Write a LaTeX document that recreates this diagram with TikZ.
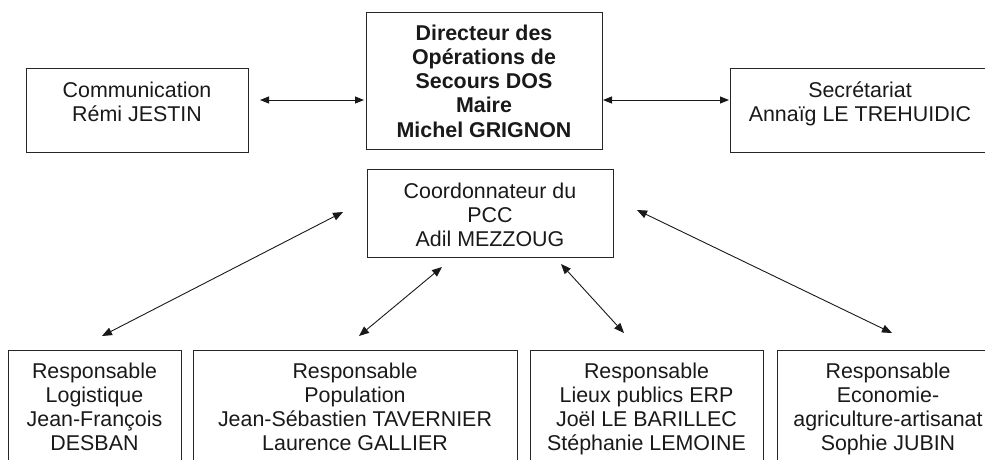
\documentclass[tikz,border=0pt]{standalone}
\usepackage{fontspec}
\setmainfont{Liberation Sans}
\usetikzlibrary{arrows.meta}
\newcommand{\topstrut}{\rule{0pt}{18pt}}
\begin{document}
\begin{tikzpicture}[x=1pt,y=-1pt,
  box/.style={draw=black!85, line width=0.9pt, rectangle, inner sep=0pt, outer sep=0pt},
  txt/.style={align=center, anchor=north, inner sep=0pt, outer sep=0pt,
              font=\fontsize{21.4}{24.3}\selectfont, text=black!90},
  conn/.style={line width=0.9pt, draw=black!90,
               {Triangle[length=10pt,width=8pt]}-{Triangle[length=10pt,width=8pt]}},
  hconn/.style={line width=0.9pt, draw=black!90,
               {Triangle[length=9pt,width=7pt]}-{Triangle[length=9pt,width=7pt]}}]
\path[use as bounding box, clip] (0,0) rectangle (985,459);

% boxes
\node[box, minimum width=222pt, minimum height=84pt]  (com)  at (137,110) {};
\node[box, minimum width=236pt, minimum height=137pt] (dos)  at (484,80.5) {};
\node[box, minimum width=260pt, minimum height=84pt]  (sec)  at (860,110) {};
\node[box, minimum width=246pt, minimum height=88pt]  (pcc)  at (490,213) {};
\node[box, minimum width=173pt, minimum height=120pt] (log)  at (94.5,410) {};
\node[box, minimum width=324pt, minimum height=120pt] (pop)  at (355,410) {};
\node[box, minimum width=233pt, minimum height=120pt] (erp)  at (646.5,410) {};
\node[box, minimum width=222pt, minimum height=120pt] (eco)  at (888,410) {};

% texts
\node[txt] (comT) at ([yshift=-11pt]com.north) {\topstrut Communication\\Rémi JESTIN};
\node[txt, font=\fontsize{21.4}{24.3}\selectfont\bfseries] (dosT) at ([yshift=-10pt]dos.north)
  {\topstrut Directeur des\\Opérations de\\Secours DOS\\Maire\\Michel GRIGNON};
\node[txt] (secT) at ([yshift=-11pt]sec.north) {\topstrut Secrétariat\\Annaïg LE TREHUIDIC};
\node[txt] (pccT) at ([yshift=-11pt]pcc.north) {\topstrut Coordonnateur du\\PCC\\Adil MEZZOUG};
\node[txt] (logT) at ([yshift=-10pt]log.north) {\topstrut Responsable\\Logistique\\Jean-François\\DESBAN};
\node[txt] (popT) at ([yshift=-10pt]pop.north) {\topstrut Responsable\\Population\\Jean-Sébastien TAVERNIER\\Laurence GALLIER};
\node[txt] (erpT) at ([yshift=-10pt]erp.north) {\topstrut Responsable\\Lieux publics ERP\\Joël LE BARILLEC\\Stéphanie LEMOINE};
\node[txt] (ecoT) at ([yshift=-10pt]eco.north) {\topstrut Responsable\\Economie-\\agriculture-artisanat\\Sophie JUBIN};

% connector end points
\coordinate (h1a) at (260,100);
\coordinate (h1b) at (364,100);
\coordinate (h2a) at (603,100);
\coordinate (h2b) at (729,100);
\coordinate (a1a) at (343,212);
\coordinate (a1b) at (102,336);
\coordinate (a2a) at (442,267);
\coordinate (a2b) at (359,336);
\coordinate (a3a) at (561,264);
\coordinate (a3b) at (624,333);
\coordinate (a4a) at (637,210);
\coordinate (a4b) at (892,333);

% connectors
\draw[hconn] (h1a) -- (h1b);
\draw[hconn] (h2a) -- (h2b);
\draw[conn] (a1a) -- (a1b);
\draw[conn] (a2a) -- (a2b);
\draw[conn] (a3a) -- (a3b);
\draw[conn] (a4a) -- (a4b);
\end{tikzpicture}
\end{document}
